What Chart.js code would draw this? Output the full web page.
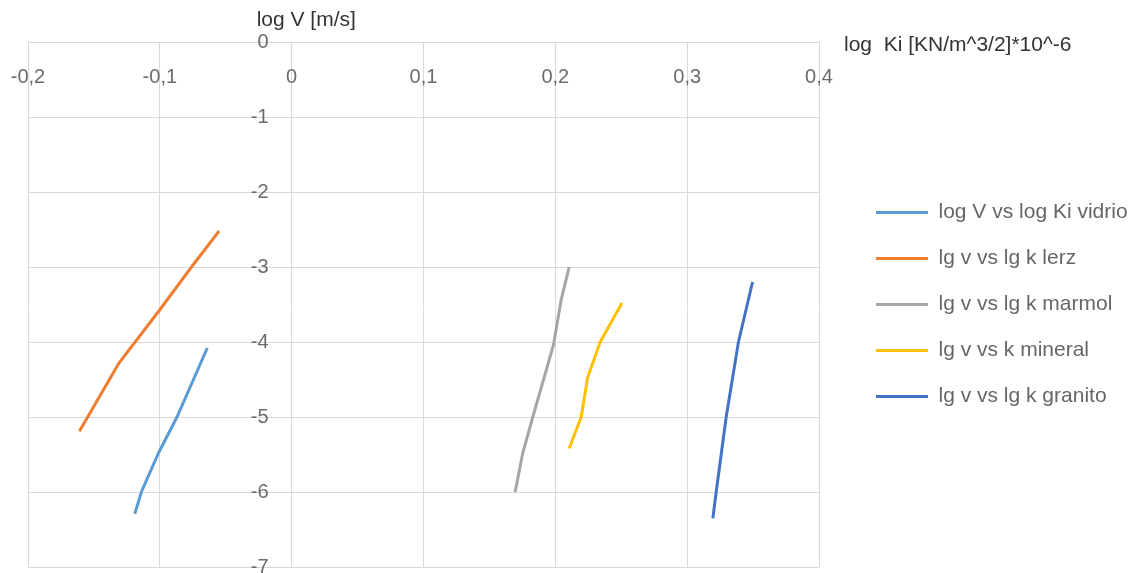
<!DOCTYPE html>

<head>
    <title>log V vs log Ki</title>
    <script src="https://cdn.jsdelivr.net/npm/chart.js@4.4.3/dist/chart.umd.min.js"></script>
</head>

<body>
    <div class="wrap">
        <canvas id="chart" width="1131" height="573"></canvas>
    </div>

    <style>
        body {
            margin: 0;
            background: #fff;
        }

        .wrap {
            width: 1131px;
            height: 573px;
        }
    </style>
    <script>
        // series: x = log Ki, y = log V
        const seriesNames = ['log V vs log Ki vidrio', 'lg v vs lg k lerz', 'lg v vs lg k marmol', 'lg v vs k mineral', 'lg v vs lg k granito']

        const vidrioKi = [-0.119, -0.114, -0.101, -0.087, -0.064]
        const vidrioV = [-6.29, -6.0, -5.48, -5.0, -4.08]

        const lerzKi = [-0.161, -0.131, -0.100, -0.076, -0.055]
        const lerzV = [-5.19, -4.28, -3.57, -3.0, -2.52]

        const marmolKi = [0.1695, 0.1753, 0.1829, 0.1986, 0.2044, 0.2105]
        const marmolV = [-6.0, -5.48, -5.0, -4.04, -3.44, -3.0]

        const mineralKi = [0.2105, 0.2196, 0.2244, 0.234, 0.2505]
        const mineralV = [-5.42, -5.0, -4.48, -4.0, -3.48]

        const granitoKi = [0.3195, 0.322, 0.3296, 0.3389, 0.3496]
        const granitoV = [-6.35, -6.0, -5.0, -4.0, -3.2]

        const yTitle = 'log V [m/s]'
        const xTitle = 'log  Ki [KN/m^3/2]*10^-6'

        const FONT = '"Liberation Sans", Arial, sans-serif'
        Chart.defaults.font.family = FONT

        function toPoints(xs, ys) {
            return xs.map((x, i) => ({ x: x, y: ys[i] }))
        }

        function fmt(v) {
            if (v === 0) return '0'
            return (Math.round(v * 10) / 10).toString().replace('.', ',')
        }

        function line(label, xs, ys, color) {
            return {
                label: label,
                data: toPoints(xs, ys),
                showLine: true,
                borderColor: color,
                backgroundColor: color,
                borderWidth: 3,
                pointRadius: 0,
                tension: 0,
                xAxisID: 'x',
                yAxisID: 'y'
            }
        }

        // axis titles sit in odd spots in the original, draw them by hand
        const axisTitles = {
            id: 'axisTitles',
            afterDraw(chart) {
                const ctx = chart.ctx
                const x0 = chart.scales.x.getPixelForValue(0)
                ctx.save()
                ctx.font = '21px ' + FONT
                ctx.fillStyle = '#333'
                ctx.textBaseline = 'middle'
                ctx.textAlign = 'left'
                ctx.fillText(yTitle, x0 - 35, 20)
                ctx.fillText(xTitle, chart.chartArea.right + 25, 45)
                ctx.restore()
            }
        }

        const chart = new Chart(document.getElementById('chart'), {
            type: 'scatter',
            data: {
                datasets: [
                    line(seriesNames[0], vidrioKi, vidrioV, '#5B9BD5'),
                    line(seriesNames[1], lerzKi, lerzV, '#ED7D31'),
                    line(seriesNames[2], marmolKi, marmolV, '#A5A5A5'),
                    line(seriesNames[3], mineralKi, mineralV, '#FFC000'),
                    line(seriesNames[4], granitoKi, granitoV, '#4472C4')
                ]
            },
            options: {
                responsive: false,
                animation: false,
                devicePixelRatio: 1,
                layout: {
                    padding: { left: 28, top: 42, right: 0, bottom: 6 }
                },
                plugins: {
                    legend: {
                        position: 'right',
                        align: 'center',
                        maxWidth: 280,
                        labels: {
                            usePointStyle: true,
                            pointStyle: 'line',
                            pointStyleWidth: 52,
                            padding: 25,
                            color: '#666',
                            font: { size: 21 }
                        }
                    },
                    tooltip: { enabled: false }
                },
                scales: {
                    x: {
                        type: 'linear',
                        position: { y: -0.27 },
                        min: -0.2,
                        max: 0.4,
                        afterFit(s) {
                            s.height = 0
                            s.paddingLeft = 0
                            s.paddingRight = 0
                        },
                        grid: {
                            color: c => (c.tick && c.tick.value === 0 ? '#c4c4c4' : '#d9d9d9'),
                            drawTicks: false
                        },
                        border: { display: false },
                        ticks: {
                            stepSize: 0.1,
                            color: '#6b6b6b',
                            font: { size: 20 },
                            callback: v => fmt(v)
                        }
                    },
                    y: {
                        type: 'linear',
                        position: { x: -0.0175 },
                        min: -7,
                        max: 0,
                        // labels may hang below the plot, the original cuts them off
                        afterFit(s) {
                            s.width = 0
                            s.paddingTop = 0
                            s.paddingBottom = 0
                        },
                        grid: {
                            color: '#d9d9d9',
                            drawTicks: false
                        },
                        border: { display: false },
                        ticks: {
                            stepSize: 1,
                            color: '#6b6b6b',
                            font: { size: 20 },
                            callback: v => fmt(v)
                        }
                    },
                    // empty spacer between the plot and the legend
                    yR: {
                        type: 'linear',
                        position: 'right',
                        grid: { display: false },
                        border: { display: false },
                        ticks: { display: false },
                        afterFit(s) {
                            s.width = 32
                            s.paddingTop = 0
                            s.paddingBottom = 0
                        }
                    }
                }
            },
            plugins: [axisTitles]
        })
    </script>
</body>
